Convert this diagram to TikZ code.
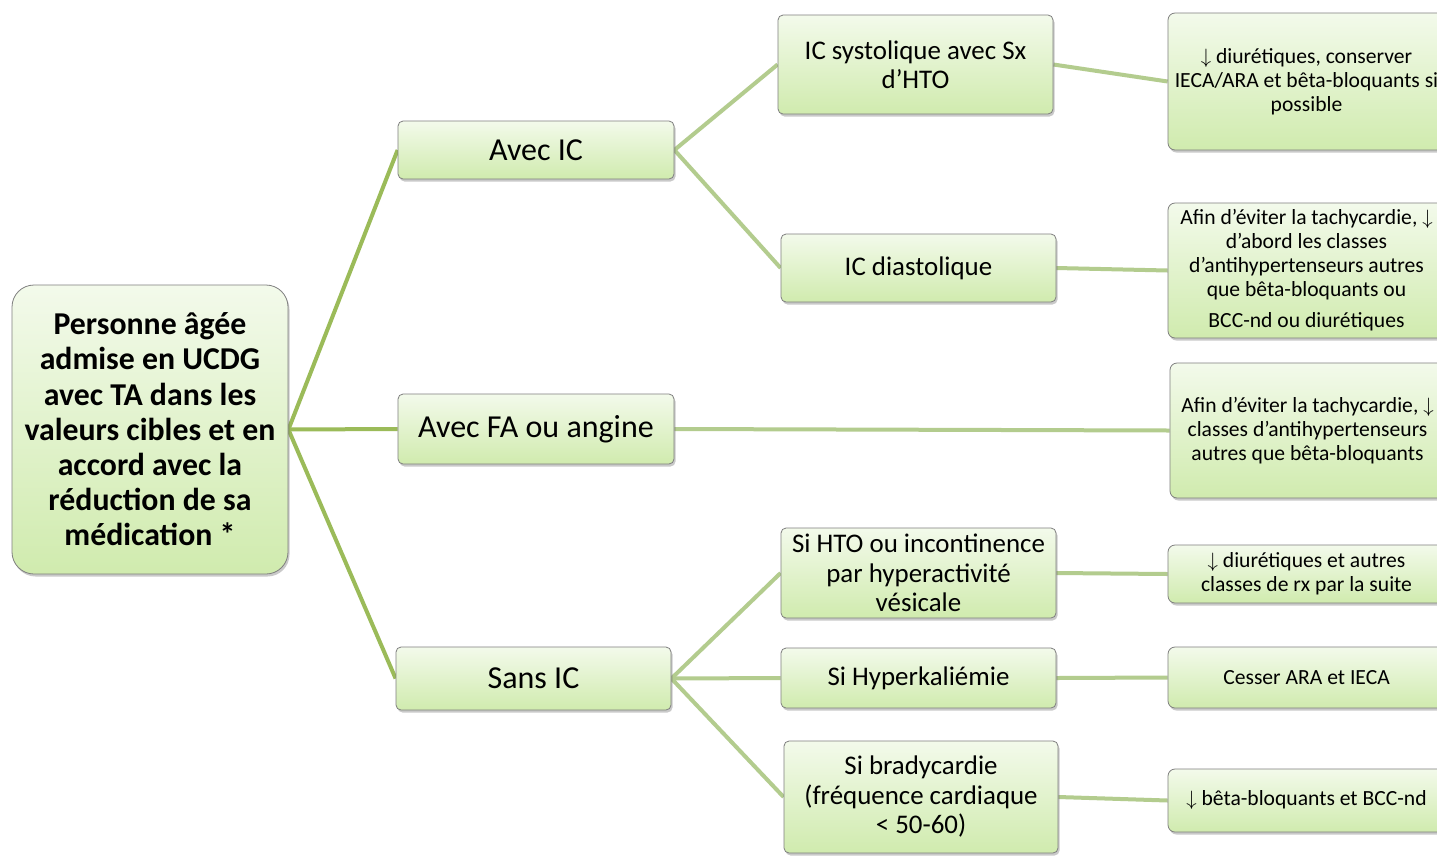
\documentclass[tikz,border=0pt]{standalone}
\usepackage{fontspec}
\setmainfont{Carlito}
\usetikzlibrary{shadows,backgrounds}
\definecolor{lineA}{HTML}{9BBB59}
\definecolor{lineB}{HTML}{B3CC8E}
\definecolor{boxtop}{HTML}{F3FAEB}
\definecolor{boxbot}{HTML}{D0EBAE}
\definecolor{boxline}{HTML}{7F7F7F}
\newcommand{\dn}{\(\downarrow\)}
\begin{document}
\begin{tikzpicture}[x=1pt,y=-1pt,
  box/.style={draw=boxline, line width=0.8pt, top color=boxtop, bottom color=boxbot,
    rounded corners=5pt, align=center, inner sep=0pt,
    drop shadow={shadow xshift=1.5pt, shadow yshift=-2.5pt, opacity=0.35, fill=black!60}},
  rootbox/.style={box, rounded corners=22pt, font=\fontsize{31.8}{35.2}\selectfont\bfseries},
  lvone/.style={box, font=\fontsize{32}{35}\selectfont},
  lvtwo/.style={box, font=\fontsize{26.9}{29.5}\selectfont},
  lvthree/.style={box, rounded corners=7pt, font=\fontsize{21.6}{23.8}\selectfont},
  conA/.style={draw=lineA, line width=4pt},
  conB/.style={draw=lineB, line width=4pt}]
\useasboundingbox (0,0) rectangle (1437,855);

\node[rootbox, minimum width=276, minimum height=289] (root) at (150,429.5)
  {Personne âgée\\admise en UCDG\\avec TA dans les\\valeurs cibles et en\\accord avec la\\réduction de sa\\médication *};

\node[lvone, minimum width=276, minimum height=58] (aic) at (536,150) {Avec IC};
\node[lvone, minimum width=276, minimum height=70] (afa) at (536,429) {Avec FA ou angine};
\node[lvone, minimum width=275, minimum height=63] (sic) at (533.5,678.5) {Sans IC};

\node[lvtwo, minimum width=275, minimum height=99] (sys) at (915.5,64.5) {IC systolique avec Sx\\d’HTO};
\node[lvtwo, minimum width=275, minimum height=68] (dia) at (918.5,268) {IC diastolique};
\node[lvtwo, minimum width=275, minimum height=90] (hto) at (918.5,573) {Si HTO ou incontinence\\par hyperactivité\\vésicale};
\node[lvtwo, minimum width=275, minimum height=60] (hyp) at (918.5,678) {Si Hyperkaliémie};
\node[lvtwo, minimum width=274, minimum height=112] (bra) at (921,797) {Si bradycardie\\(fréquence cardiaque\\< 50-60)};

\node[lvthree, minimum width=277, minimum height=137] (r1) at (1306.5,81.5)
  {\dn{} diurétiques, conserver\\IECA/ARA et bêta-bloquants si\\possible};
\node[lvthree, minimum width=277, minimum height=135] (r2) at (1306.5,270.5)
  {Afin d’éviter la tachycardie, \dn\\d'abord les classes\\d’antihypertenseurs autres\\que bêta-bloquants ou\\[8pt]BCC-nd ou diurétiques};
\node[lvthree, minimum width=275, minimum height=135] (r3) at (1307.5,430.5)
  {Afin d’éviter la tachycardie, \dn\\classes d’antihypertenseurs\\autres que bêta-bloquants};
\node[lvthree, minimum width=277, minimum height=58] (r4) at (1306.5,574)
  {\dn{} diurétiques et autres\\classes de rx par la suite};
\node[lvthree, minimum width=277, minimum height=61] (r5) at (1306.5,677.5)
  {Cesser ARA et IECA};
\node[lvthree, minimum width=277, minimum height=63] (r6) at (1306.5,800.5)
  {\dn{} bêta-bloquants et BCC-nd};

\begin{scope}[on background layer]
\fill[white] (0,0) rectangle (1437,855);
\draw[conA] (root.east) -- (aic.west);
\draw[conA] (root.east) -- (afa.west);
\draw[conA] (root.east) -- (sic.west);
\draw[conB] (aic.east) -- (sys.west);
\draw[conB] (aic.east) -- (dia.west);
\draw[conB] (sic.east) -- (hto.west);
\draw[conB] (sic.east) -- (hyp.west);
\draw[conB] (sic.east) -- (bra.west);
\draw[conB] (sys.east) -- (r1.west);
\draw[conB] (dia.east) -- (r2.west);
\draw[conB] (afa.east) -- (r3.west);
\draw[conB] (hto.east) -- (r4.west);
\draw[conB] (hyp.east) -- (r5.west);
\draw[conB] (bra.east) -- (r6.west);
\end{scope}
\end{tikzpicture}
\end{document}
